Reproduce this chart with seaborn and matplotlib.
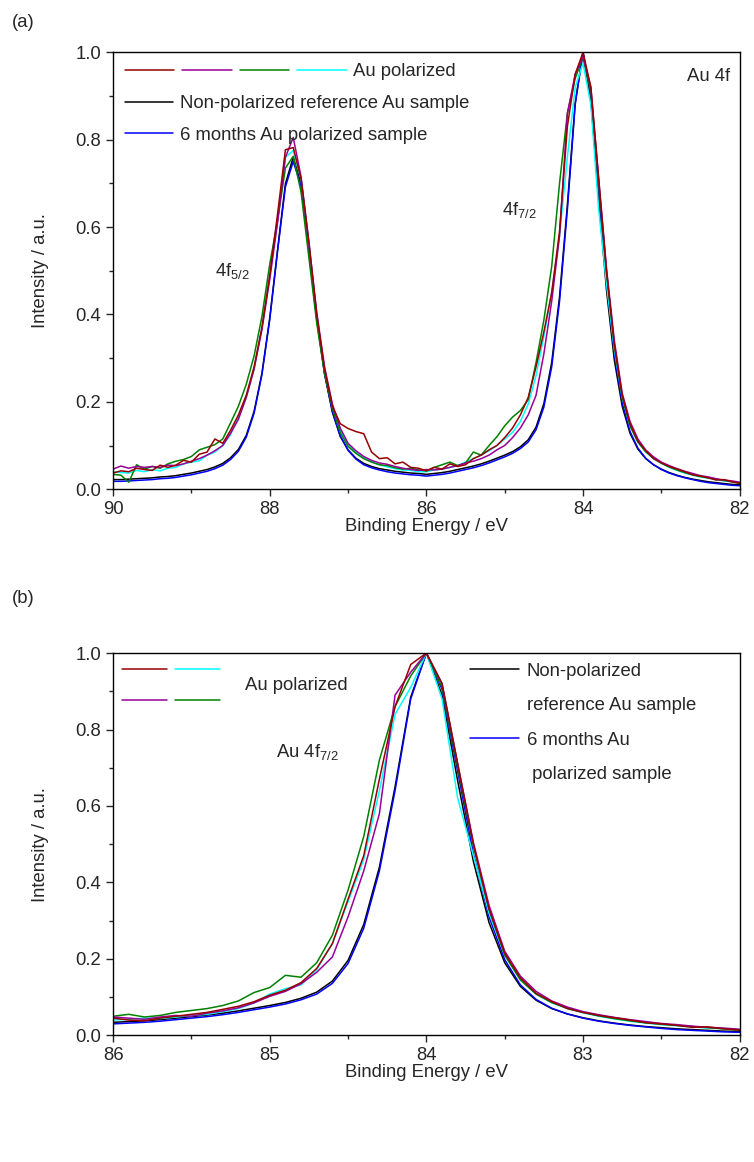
import numpy as np
import pandas as pd
import matplotlib
matplotlib.use('Agg')
import matplotlib.pyplot as plt
import seaborn as sns
from matplotlib.lines import Line2D
from matplotlib.legend_handler import HandlerBase
from matplotlib.ticker import MultipleLocator

# ----- Data (normalised intensities) -----
# panel (a): Au 4f, 90.0 -> 82.0 eV, 0.1 eV step
energy_a = np.round(np.arange(90.0, 81.95, -0.1), 1)

black_a = [0.022, 0.022, 0.023, 0.024, 0.025, 0.026, 0.028, 0.029, 0.031, 0.034,
           0.037, 0.041, 0.045, 0.051, 0.059, 0.072, 0.091, 0.123, 0.178, 0.265,
           0.392, 0.548, 0.699, 0.760, 0.699, 0.547, 0.390, 0.263, 0.176, 0.121,
           0.090, 0.071, 0.059, 0.052, 0.047, 0.044, 0.041, 0.039, 0.037, 0.036,
           0.034, 0.036, 0.038, 0.041, 0.045, 0.049, 0.053, 0.058, 0.064, 0.071,
           0.078, 0.086, 0.097, 0.113, 0.142, 0.196, 0.290, 0.440, 0.650, 0.885,
           1.000, 0.890, 0.665, 0.455, 0.295, 0.190, 0.128, 0.092, 0.070, 0.056,
           0.046, 0.038, 0.032, 0.027, 0.023, 0.020, 0.017, 0.015, 0.013, 0.011, 0.010]

blue_a = [0.018, 0.018, 0.019, 0.020, 0.021, 0.022, 0.024, 0.025, 0.027, 0.030,
          0.033, 0.037, 0.041, 0.047, 0.055, 0.068, 0.087, 0.119, 0.174, 0.262,
          0.388, 0.545, 0.692, 0.750, 0.695, 0.548, 0.393, 0.266, 0.178, 0.122,
          0.089, 0.069, 0.056, 0.049, 0.044, 0.040, 0.037, 0.035, 0.033, 0.032,
          0.030, 0.032, 0.034, 0.037, 0.041, 0.045, 0.049, 0.054, 0.060, 0.067,
          0.074, 0.082, 0.093, 0.108, 0.136, 0.188, 0.280, 0.430, 0.640, 0.880,
          1.000, 0.905, 0.690, 0.475, 0.310, 0.198, 0.132, 0.094, 0.071, 0.056,
          0.045, 0.037, 0.031, 0.026, 0.022, 0.018, 0.015, 0.013, 0.011, 0.009, 0.008]

red_a = [0.037, 0.042, 0.040, 0.048, 0.045, 0.043, 0.055, 0.050, 0.055, 0.066,
         0.062, 0.080, 0.085, 0.115, 0.105, 0.135, 0.170, 0.215, 0.280, 0.370,
         0.490, 0.630, 0.777, 0.782, 0.710, 0.565, 0.400, 0.275, 0.190, 0.150,
         0.139, 0.132, 0.127, 0.085, 0.070, 0.072, 0.058, 0.062, 0.050, 0.048,
         0.042, 0.050, 0.046, 0.058, 0.052, 0.056, 0.070, 0.078, 0.090, 0.100,
         0.118, 0.140, 0.170, 0.210, 0.280, 0.360, 0.450, 0.590, 0.830, 0.950,
         1.000, 0.920, 0.710, 0.500, 0.330, 0.215, 0.150, 0.110, 0.088, 0.070,
         0.060, 0.052, 0.046, 0.040, 0.033, 0.030, 0.026, 0.021, 0.022, 0.017, 0.014]

purple_a = [0.046, 0.053, 0.048, 0.052, 0.050, 0.052, 0.050, 0.055, 0.054, 0.058,
            0.064, 0.070, 0.078, 0.088, 0.100, 0.128, 0.160, 0.210, 0.275, 0.365,
            0.480, 0.610, 0.760, 0.805, 0.715, 0.565, 0.405, 0.280, 0.195, 0.140,
            0.105, 0.088, 0.075, 0.066, 0.060, 0.057, 0.052, 0.048, 0.045, 0.043,
            0.045, 0.044, 0.046, 0.050, 0.054, 0.060, 0.064, 0.070, 0.078, 0.090,
            0.100, 0.118, 0.140, 0.170, 0.215, 0.310, 0.430, 0.580, 0.860, 0.950,
            0.990, 0.920, 0.710, 0.505, 0.340, 0.220, 0.155, 0.115, 0.090, 0.074,
            0.062, 0.054, 0.047, 0.041, 0.036, 0.031, 0.028, 0.024, 0.021, 0.019, 0.016]

green_a = [0.034, 0.032, 0.016, 0.056, 0.046, 0.052, 0.048, 0.058, 0.064, 0.068,
           0.075, 0.090, 0.096, 0.102, 0.115, 0.152, 0.190, 0.240, 0.305, 0.395,
           0.515, 0.615, 0.735, 0.762, 0.680, 0.530, 0.380, 0.265, 0.185, 0.130,
           0.098, 0.082, 0.070, 0.062, 0.056, 0.054, 0.049, 0.046, 0.048, 0.044,
           0.042, 0.050, 0.056, 0.062, 0.054, 0.060, 0.085, 0.078, 0.100, 0.120,
           0.145, 0.165, 0.180, 0.205, 0.290, 0.387, 0.510, 0.700, 0.860, 0.940,
           0.990, 0.910, 0.700, 0.495, 0.330, 0.210, 0.145, 0.108, 0.086, 0.071,
           0.060, 0.051, 0.044, 0.038, 0.033, 0.029, 0.026, 0.023, 0.020, 0.017, 0.013]

cyan_a = [0.040, 0.038, 0.037, 0.043, 0.040, 0.045, 0.042, 0.048, 0.050, 0.058,
          0.062, 0.065, 0.078, 0.085, 0.100, 0.125, 0.165, 0.210, 0.275, 0.370,
          0.490, 0.620, 0.760, 0.775, 0.710, 0.560, 0.395, 0.270, 0.188, 0.135,
          0.102, 0.085, 0.072, 0.063, 0.056, 0.051, 0.047, 0.044, 0.043, 0.040,
          0.040, 0.044, 0.046, 0.050, 0.054, 0.062, 0.070, 0.078, 0.088, 0.100,
          0.115, 0.130, 0.155, 0.195, 0.260, 0.350, 0.450, 0.580, 0.760, 0.920,
          0.975, 0.880, 0.640, 0.470, 0.320, 0.210, 0.146, 0.108, 0.085, 0.070,
          0.059, 0.050, 0.043, 0.037, 0.032, 0.028, 0.025, 0.022, 0.019, 0.017, 0.015]

# panel (b): Au 4f7/2, 86.0 -> 82.0 eV, 0.1 eV step
energy_b = np.round(np.arange(86.0, 81.95, -0.1), 1)

black_b = [0.034, 0.036, 0.038, 0.041, 0.045, 0.049, 0.053, 0.058, 0.064, 0.071,
           0.078, 0.086, 0.097, 0.113, 0.142, 0.196, 0.290, 0.440, 0.650, 0.885,
           1.000, 0.890, 0.665, 0.455, 0.295, 0.190, 0.128, 0.092, 0.070, 0.056,
           0.046, 0.038, 0.032, 0.027, 0.023, 0.020, 0.017, 0.015, 0.013, 0.011, 0.010]

blue_b = [0.030, 0.032, 0.034, 0.037, 0.041, 0.045, 0.049, 0.054, 0.060, 0.067,
          0.074, 0.082, 0.093, 0.108, 0.136, 0.188, 0.280, 0.430, 0.640, 0.880,
          1.000, 0.905, 0.690, 0.475, 0.310, 0.198, 0.132, 0.094, 0.071, 0.056,
          0.045, 0.037, 0.031, 0.026, 0.022, 0.018, 0.015, 0.013, 0.011, 0.009, 0.008]

red_b = [0.045, 0.040, 0.038, 0.045, 0.050, 0.055, 0.060, 0.068, 0.076, 0.088,
         0.105, 0.118, 0.138, 0.175, 0.240, 0.356, 0.470, 0.670, 0.860, 0.970,
         1.000, 0.920, 0.710, 0.500, 0.330, 0.215, 0.150, 0.110, 0.088, 0.070,
         0.060, 0.052, 0.046, 0.040, 0.033, 0.030, 0.026, 0.021, 0.022, 0.017, 0.014]

purple_b = [0.048, 0.045, 0.042, 0.048, 0.052, 0.050, 0.058, 0.064, 0.072, 0.085,
            0.102, 0.115, 0.135, 0.165, 0.205, 0.310, 0.430, 0.580, 0.890, 0.950,
            1.000, 0.920, 0.710, 0.505, 0.340, 0.220, 0.155, 0.115, 0.090, 0.074,
            0.062, 0.054, 0.047, 0.041, 0.036, 0.031, 0.028, 0.024, 0.021, 0.019, 0.016]

green_b = [0.050, 0.055, 0.048, 0.052, 0.060, 0.065, 0.070, 0.078, 0.090, 0.112,
           0.125, 0.157, 0.152, 0.190, 0.262, 0.380, 0.520, 0.720, 0.860, 0.940,
           1.000, 0.910, 0.700, 0.495, 0.330, 0.210, 0.145, 0.108, 0.086, 0.071,
           0.060, 0.051, 0.044, 0.038, 0.033, 0.029, 0.026, 0.023, 0.020, 0.017, 0.013]

cyan_b = [0.040, 0.042, 0.045, 0.044, 0.048, 0.052, 0.055, 0.062, 0.070, 0.085,
          0.108, 0.122, 0.132, 0.172, 0.240, 0.350, 0.460, 0.640, 0.840, 0.910,
          1.000, 0.880, 0.620, 0.470, 0.320, 0.210, 0.146, 0.108, 0.085, 0.070,
          0.059, 0.050, 0.043, 0.037, 0.032, 0.028, 0.025, 0.022, 0.019, 0.017, 0.015]

cores = {'black': '#000000', 'blue': '#0000ff', 'cyan': '#00ffff',
         'green': '#008000', 'purple': '#990099', 'red': '#990000'}

series_a = {'black': black_a, 'blue': blue_a, 'cyan': cyan_a,
            'green': green_a, 'purple': purple_a, 'red': red_a}
series_b = {'black': black_b, 'blue': blue_b, 'cyan': cyan_b,
            'green': green_b, 'purple': purple_b, 'red': red_b}


# legend handle: several short line segments in a grid
class SegmentHandler(HandlerBase):
    def __init__(self, nrows=1, ncols=1, gap=0.45, rowgap=1.7):
        super().__init__()
        self.nrows, self.ncols = nrows, ncols
        self.gap, self.rowgap = gap, rowgap

    def create_artists(self, legend, orig_handle, xdescent, ydescent,
                       width, height, fontsize, trans):
        hs = orig_handle if isinstance(orig_handle, tuple) else (orig_handle,)
        gap = self.gap * fontsize
        seg = (width - gap * (self.ncols - 1)) / self.ncols
        artists = []
        for k, h in enumerate(hs):
            r, c = divmod(k, self.ncols)
            x0 = -xdescent + c * (seg + gap)
            y = (-ydescent + height / 2
                 + ((self.nrows - 1) / 2 - r) * self.rowgap * fontsize)
            ln = Line2D([x0, x0 + seg], [y, y], color=h.get_color(),
                        lw=h.get_linewidth())
            ln.set_transform(trans)
            artists.append(ln)
        return artists


sns.set_style('ticks')
plt.rcParams['font.family'] = ['Liberation Sans', 'DejaVu Sans']
plt.rcParams['mathtext.fontset'] = 'custom'
plt.rcParams['mathtext.rm'] = 'Liberation Sans'
plt.rcParams['mathtext.it'] = 'Liberation Sans'
plt.rcParams['mathtext.default'] = 'regular'
FS = 13.3

fig = plt.figure(figsize=(7.54, 11.62), dpi=100)
ax_a = fig.add_axes([0.150, 0.579, 0.831, 0.376])
ax_b = fig.add_axes([0.150, 0.109, 0.831, 0.329])


def desenhar(ax, energia, series):
    linhas = {}
    for nome, vals in series.items():
        df = pd.DataFrame({'E': energia, 'I': vals})
        sns.lineplot(data=df, x='E', y='I', color=cores[nome], lw=1.1,
                     sort=False, ax=ax)
        linhas[nome] = ax.lines[-1]
    ax.set_ylim(0, 1.0)
    ax.yaxis.set_major_locator(MultipleLocator(0.2))
    ax.yaxis.set_minor_locator(MultipleLocator(0.1))
    ax.set_ylabel('Intensity / a.u.', fontsize=FS, labelpad=19)
    ax.set_xlabel('Binding Energy / eV', fontsize=FS, labelpad=0)
    ax.tick_params(which='both', direction='out', labelsize=FS, width=1.0)
    ax.tick_params(which='major', length=5)
    ax.tick_params(which='minor', length=3)
    for s in ax.spines.values():
        s.set_linewidth(1.0)
        s.set_color('black')
    return linhas


# ----- panel (a) -----
la = desenhar(ax_a, energy_a, series_a)
ax_a.set_xlim(90, 82)
ax_a.xaxis.set_major_locator(MultipleLocator(2))
ax_a.xaxis.set_minor_locator(MultipleLocator(1))

pol_a = (la['red'], la['purple'], la['green'], la['cyan'])
leg1 = ax_a.legend([pol_a], ['Au polarized'], loc='upper left',
                   bbox_to_anchor=(0.019, 0.975), frameon=False, fontsize=FS,
                   handlelength=12.0, handletextpad=0.33, borderpad=0,
                   borderaxespad=0, handler_map={tuple: SegmentHandler(ncols=4)})
ax_a.add_artist(leg1)
ax_a.legend([la['black'], la['blue']],
            ['Non-polarized reference Au sample', '6 months Au polarized sample'],
            loc='upper left', bbox_to_anchor=(0.019, 0.902), frameon=False,
            fontsize=FS, handlelength=2.6, handletextpad=0.38, borderpad=0,
            borderaxespad=0, labelspacing=0.8)

ax_a.text(0.985, 0.965, 'Au 4f', transform=ax_a.transAxes, ha='right',
          va='top', fontsize=FS)
ax_a.text(85.03, 0.64, '4f$_{7/2}$', ha='left', va='center', fontsize=FS)
ax_a.text(88.70, 0.50, '4f$_{5/2}$', ha='left', va='center', fontsize=FS)

# ----- panel (b) -----
lb = desenhar(ax_b, energy_b, series_b)
ax_b.set_xlim(86, 82)
ax_b.xaxis.set_major_locator(MultipleLocator(1))
ax_b.xaxis.set_minor_locator(MultipleLocator(0.5))

pol_b = (lb['red'], lb['cyan'], lb['purple'], lb['green'])
leg3 = ax_b.legend([pol_b], ['Au polarized'], loc='upper left',
                   bbox_to_anchor=(0.014, 0.962), frameon=False, fontsize=FS,
                   handlelength=5.3, handleheight=2.4, handletextpad=1.35,
                   borderpad=0, borderaxespad=0,
                   handler_map={tuple: SegmentHandler(nrows=2, ncols=2)})
ax_b.add_artist(leg3)
vazio = Line2D([], [], color='none')
ax_b.legend([lb['black'], vazio, lb['blue'], vazio],
            ['Non-polarized', 'reference Au sample', '6 months Au', ' polarized sample'],
            loc='upper left', bbox_to_anchor=(0.569, 0.975), frameon=False,
            fontsize=FS, handlelength=2.7, handletextpad=0.38, borderpad=0,
            borderaxespad=0, labelspacing=0.95)

ax_b.text(84.96, 0.74, 'Au 4f$_{7/2}$', ha='left', va='center', fontsize=FS)

fig.text(0.016, 0.981, '(a)', ha='left', va='center', fontsize=FS)
fig.text(0.016, 0.485, '(b)', ha='left', va='center', fontsize=FS)

fig.savefig('out.png', dpi=100)
